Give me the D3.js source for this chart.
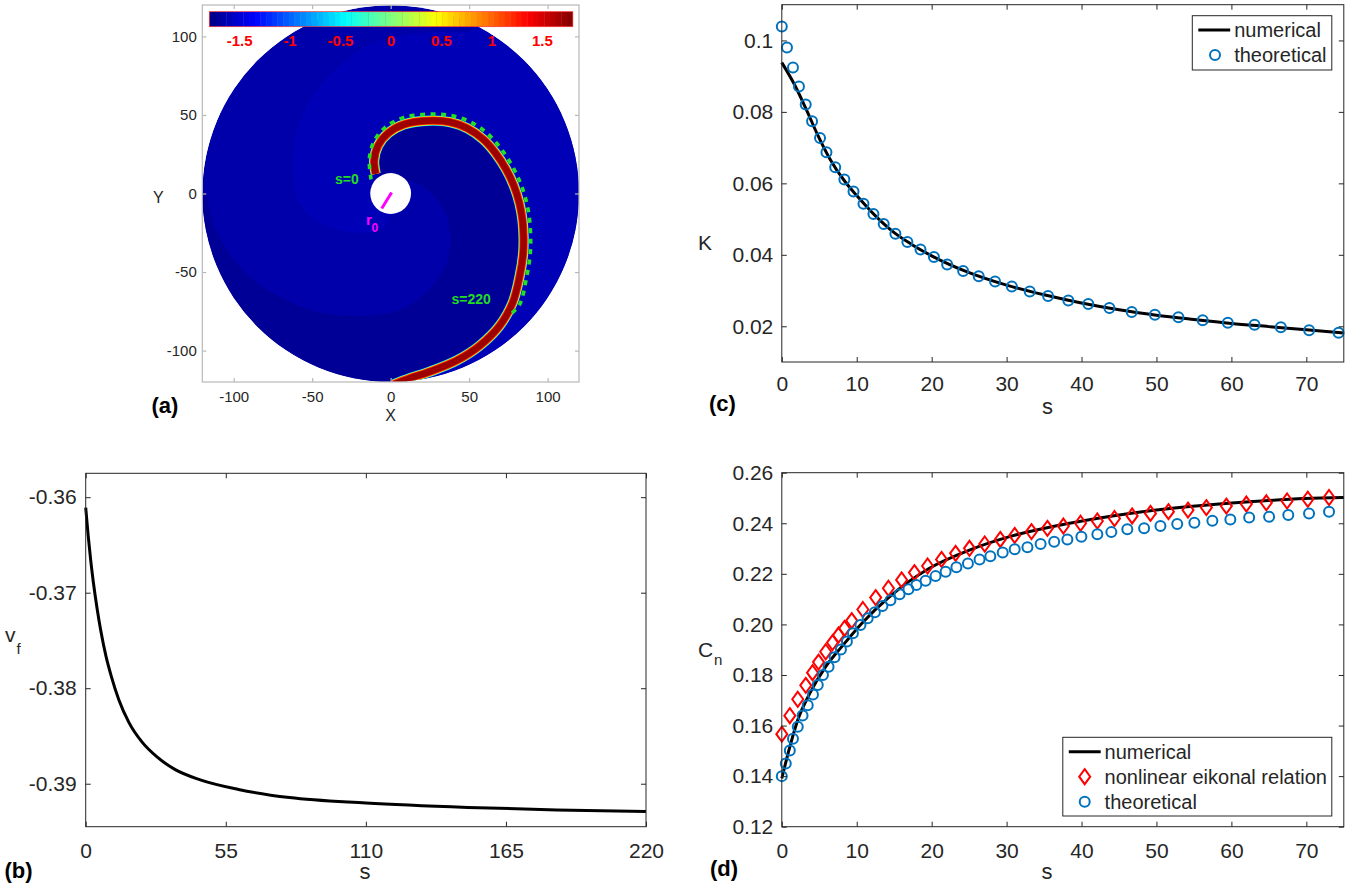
<!DOCTYPE html>
<html>
<head>
<meta charset="utf-8">
<script src="https://cdn.jsdelivr.net/npm/d3@7"></script>
<style>
  body { margin: 0; background: #fff; }
  svg { display: block; }
</style>
</head>
<body>
<svg id="fig" width="1355" height="886"></svg>
<script>
/* ---------- panel (a): spiral field ---------- */
const colorRange = [-1.8, 1.8];
const colorTicks = [-1.5, -1, -0.5, 0, 0.5, 1, 1.5];
const colorTickLabels = ["-1.5", "-1", "-0.5", "0", "0.5", "1", "1.5"];
const ticksA = [-100, -50, 0, 50, 100];
const tickLabelsA = ["-100", "-50", "0", "50", "100"];
const domainA = [-120, 120];
const diskR = 120;
const holeR = 13;
// field level of base arm, bright arm, dark (refractory) arm
const fieldLevels = [-1.65, -1.61, -1.72];
// centre line of the excited band, tip -> bottom exit
const bandX = [-9.5, -10.5, -8, -1.5, 8.5, 23, 37.5, 49, 59, 67, 73.5, 78.5, 82, 84, 84.7, 84.4, 82.3, 77.8, 69.4, 56.7, 41.9, 25, 12.3, 2];
const bandY = [12.5, 21, 30.5, 38.5, 44, 46.3, 45.5, 41.5, 34.5, 25.5, 15.5, 5, -6, -17, -28, -38.5, -52, -69.3, -84.2, -96.9, -106.4, -113.4, -117.6, -121.5];
const bandLevels = [-0.9, -0.2, 0.5, 1.2, 1.7];
// wave front from s=0 to s=220
const frontX = [-12.5, -13.6, -11, -3.6, 8, 22.9, 37.6, 51, 62, 70.5, 77.4, 82.7, 86.4, 88.5, 89.2, 88.9, 86.7, 82, 75];
const frontY = [9, 21.8, 32.4, 42, 48.3, 50.4, 49.8, 45.5, 37.9, 28.3, 17.7, 6.7, -4.9, -16.4, -27.9, -38.9, -52.9, -71, -78];
// edge of the bright arm (top -> below the hole)
const brightX = [52, 30, 4, -15, -32, -49, -60, -62, -60, -52, -38, -20, -5, 0];
const brightY = [104, 103, 100, 94, 82, 63, 40, 19, -2, -14, -22, -25, -22, -10];
// edge of the dark arm (left rim -> right of the hole)
const darkX = [-119, -112, -100, -85, -68, -48, -26, -8, 6, 18, 27, 34, 37, 38, 35.5, 27, 20, 12];
const darkY = [1, -22, -42, -57, -67, -75, -78, -77, -74, -67, -58, -48, -40, -28, -14, -1, 5, 8];
const r0X = [0.6, -5.7];
const r0Y = [0.6, -9.5];

/* ---------- panel (b): front velocity ---------- */
const vfS = [0, 1, 2, 3, 4.5, 6, 8, 10, 13, 17, 22, 28, 35, 45, 60, 80, 110, 150, 185, 220];
const vfV = [-0.3611, -0.3641, -0.3667, -0.3689, -0.3717, -0.3741, -0.3767, -0.3787, -0.3812, -0.3836, -0.3856, -0.3872, -0.3885, -0.3896, -0.3906, -0.39145, -0.39202, -0.39248, -0.39274, -0.3929];
const ticksBx = [0, 55, 110, 165, 220];
const ticksBy = [-0.39, -0.38, -0.37, -0.36];
const tickLabelsBy = ["-0.39", "-0.38", "-0.37", "-0.36"];

/* ---------- panel (c): curvature ---------- */
const kNumS = [0, 1.6, 3.2, 4.8, 6.4, 8.5, 10, 12.5, 15, 17.5, 20, 25, 30, 35, 40, 45, 50, 55, 60, 65, 70, 75];
const kNumV = [0.0938, 0.088, 0.081, 0.0735, 0.0669, 0.0603, 0.0566, 0.0509, 0.0462, 0.0427, 0.0397, 0.035, 0.0315, 0.0288, 0.0265, 0.0246, 0.0231, 0.0219, 0.0208, 0.0199, 0.019, 0.0181];
const kThS = [0, 0.69, 1.49, 2.29, 3.19, 4.04, 5.1, 5.96, 7.13, 8.35, 9.57, 10.9, 12.23, 13.6, 15.16, 16.76, 18.51, 20.3, 22.07, 24.2, 26.28, 28.46, 30.7, 33.09, 35.53, 38.24, 40.9, 43.72, 46.7, 49.79, 52.93, 56.17, 59.52, 63.09, 66.6, 70.37, 74.3];
const kThV = [0.1039, 0.098, 0.0924, 0.0871, 0.0821, 0.0774, 0.0727, 0.0687, 0.0645, 0.0611, 0.0577, 0.0543, 0.0514, 0.0486, 0.0459, 0.0436, 0.0415, 0.0394, 0.0373, 0.0355, 0.034, 0.0325, 0.0311, 0.0297, 0.0285, 0.0272, 0.0262, 0.0251, 0.024, 0.0232, 0.0225, 0.0217, 0.021, 0.0204, 0.0197, 0.0189, 0.0182];
const ticksS = [0, 10, 20, 30, 40, 50, 60, 70];
const ticksCy = [0.02, 0.04, 0.06, 0.08, 0.1];
const tickLabelsCy = ["0.02", "0.04", "0.06", "0.08", "0.1"];

/* ---------- panel (d): normal speed ---------- */
const cnNumS = [0, 1.07, 2.13, 3.73, 5.86, 8, 10.66, 14.4, 19.7, 25.05, 30.4, 38.4, 46.4, 54.4, 62.4, 69.8, 75];
const cnNumV = [0.1391, 0.1516, 0.1622, 0.1727, 0.1833, 0.1912, 0.2004, 0.211, 0.2222, 0.2294, 0.2347, 0.24, 0.2439, 0.2466, 0.2485, 0.2498, 0.2502];
const eikS = [0, 1.07, 2.13, 3.2, 4.1, 4.9, 5.86, 6.77, 7.57, 8.37, 9.33, 10.82, 12.53, 14.23, 15.99, 17.7, 19.46, 21.32, 23.19, 25.05, 27.08, 29.16, 31.08, 33.32, 35.45, 37.58, 39.87, 42.11, 44.4, 46.75, 49.2, 51.6, 54.21, 56.66, 59.33, 62, 64.66, 67.43, 70.2, 73.03];
const eikV = [0.1566, 0.1639, 0.1704, 0.1759, 0.1809, 0.1851, 0.1892, 0.1928, 0.1958, 0.1984, 0.2015, 0.2059, 0.2106, 0.2143, 0.2176, 0.2205, 0.2231, 0.2257, 0.2281, 0.2301, 0.2318, 0.2336, 0.2352, 0.2367, 0.238, 0.2389, 0.24, 0.2409, 0.2419, 0.2429, 0.2439, 0.2446, 0.2452, 0.2462, 0.2468, 0.2476, 0.2481, 0.2488, 0.2495, 0.2502];
const cnThS = [0, 0.53, 1.07, 1.49, 2.13, 2.77, 3.46, 4.16, 4.8, 5.49, 6.24, 7.04, 7.89, 8.69, 9.49, 10.5, 11.46, 12.42, 13.43, 14.5, 15.72, 16.9, 17.96, 19.19, 20.52, 21.86, 23.3, 24.84, 26.39, 27.83, 29.48, 31.08, 32.78, 34.54, 36.35, 38.11, 39.98, 42.11, 43.98, 46.11, 48.35, 50.53, 52.77, 55.06, 57.46, 59.86, 62.37, 65.03, 67.59, 70.36, 73.03];
const cnThV = [0.14, 0.145, 0.1501, 0.1548, 0.1595, 0.164, 0.168, 0.1723, 0.176, 0.18, 0.1833, 0.187, 0.1901, 0.1932, 0.1965, 0.1998, 0.2024, 0.2048, 0.2073, 0.2096, 0.2119, 0.2139, 0.2156, 0.2173, 0.2191, 0.2208, 0.2226, 0.2241, 0.2257, 0.227, 0.2284, 0.2297, 0.2305, 0.2318, 0.2327, 0.2336, 0.2347, 0.2357, 0.2365, 0.2376, 0.238, 0.2389, 0.2397, 0.2402, 0.241, 0.2415, 0.2423, 0.2426, 0.2433, 0.2439, 0.2446];
const ticksDy = [0.12, 0.14, 0.16, 0.18, 0.2, 0.22, 0.24, 0.26];
const tickLabelsDy = ["0.12", "0.14", "0.16", "0.18", "0.20", "0.22", "0.24", "0.26"];

const FONT = "'Liberation Sans', Arial, Helvetica, sans-serif";
const TXT = "#262626";
const BLUE = "#0072BD";
const RED = "#FF0000";

const svg = d3.select("#fig");

// MATLAB style jet colormap
const jetStops = [0, 0.125, 0.375, 0.625, 0.875, 1];
const jetColors = ["#000080", "#0000ff", "#00ffff", "#ffff00", "#ff0000", "#800000"];
const jet = d3.scaleLinear()
    .domain(jetStops.map(f => colorRange[0] + f * (colorRange[1] - colorRange[0])))
    .range(jetColors)
    .interpolate(d3.interpolateRgb)
    .clamp(true);

// box with inward ticks on all four sides
function frame(g, x, y, o) {
    let [x0, x1] = x.range(), [yb, yt] = y.range();
    g.append("rect")
        .attr("x", x0).attr("y", yt)
        .attr("width", x1 - x0).attr("height", yb - yt)
        .attr("fill", "none")
        .attr("stroke", o.line)
        .attr("stroke-width", o.lw || 1);

    let mk = (fn, sc, vals, labels, pad, tr) => {
        let a = fn(sc).tickValues(vals)
            .tickSizeInner(-o.tick).tickSizeOuter(0)
            .tickPadding(pad)
            .tickFormat(labels ? (d, i) => labels[i] : "");
        let s = g.append("g").attr("transform", tr).call(a)
            .attr("font-family", FONT)
            .attr("font-size", o.font)
            .attr("color", o.line);
        s.select(".domain").remove();
        s.selectAll("line").attr("stroke-width", o.lw || 1);
        s.selectAll("text").attr("fill", TXT);
    };
    mk(d3.axisBottom, x, o.xt, o.xl, o.padX, `translate(0,${yb})`);
    mk(d3.axisTop, x, o.xt, null, 0, `translate(0,${yt})`);
    mk(d3.axisLeft, y, o.yt, o.yl, o.padY, `translate(${x0},0)`);
    mk(d3.axisRight, y, o.yt, null, 0, `translate(${x1},0)`);
}

function label(g, txt, x, y, size, opts = {}) {
    return g.append("text")
        .attr("x", x).attr("y", y)
        .attr("font-family", FONT)
        .attr("font-size", size)
        .attr("font-weight", opts.bold ? "bold" : null)
        .attr("text-anchor", opts.anchor || "start")
        .attr("fill", opts.color || TXT)
        .text(txt);
}

/* ======== (a) ======== */
{
    let g = svg.append("g");
    let x = d3.scaleLinear().domain(domainA).range([202.3, 579]);
    let y = d3.scaleLinear().domain(domainA).range([382, 5]);
    let pt = (px, py) => px.map((v, i) => [v, py[i]]);
    let bandPts = pt(bandX, bandY);

    let arc = (a0, a1) => {
        let n = Math.ceil(Math.abs(a1 - a0) / 3);
        return d3.range(n + 1).map(i => {
            let a = (a0 + (a1 - a0) * i / n) * Math.PI / 180;
            return [(diskR + 2) * Math.cos(a), (diskR + 2) * Math.sin(a)];
        });
    };
    let last = bandPts[bandPts.length - 1];
    let exitAng = Math.atan2(last[1], last[0]) * 180 / Math.PI;
    let topAng = Math.atan2(brightY[0], brightX[0]) * 180 / Math.PI;

    let brightPoly = bandPts.concat(arc(exitAng, topAng), pt(brightX, brightY));
    let darkPoly = bandPts.concat(arc(exitAng, -180), pt(darkX, darkY));

    svg.append("defs").append("clipPath").attr("id", "disk")
        .append("circle")
        .attr("cx", x(0)).attr("cy", y(0))
        .attr("r", x(diskR) - x(0));

    let field = g.append("g").attr("clip-path", "url(#disk)");
    field.append("circle")
        .attr("cx", x(0)).attr("cy", y(0))
        .attr("r", x(diskR) - x(0))
        .attr("fill", jet(fieldLevels[0]));

    let poly = d3.line().x(d => x(d[0])).y(d => y(d[1])).curve(d3.curveCatmullRomClosed);
    field.append("path").attr("d", poly(brightPoly)).attr("fill", jet(fieldLevels[1]));
    field.append("path").attr("d", poly(darkPoly)).attr("fill", jet(fieldLevels[2]));

    // excited band, layered from the edge colour to the core colour
    let bandLine = d3.line().x(d => x(d[0])).y(d => y(d[1])).curve(d3.curveCatmullRom.alpha(0.5));
    let bandW = [10.5, 9.8, 9, 8.2, 6.5];
    bandLevels.forEach((lv, i) => {
        field.append("path")
            .attr("d", bandLine(bandPts))
            .attr("fill", "none")
            .attr("stroke", jet(lv))
            .attr("stroke-width", bandW[i]);
    });

    // hole
    g.append("circle")
        .attr("cx", x(0)).attr("cy", y(0))
        .attr("r", x(holeR) - x(0))
        .attr("fill", "#fff");

    // wave front
    g.append("path")
        .attr("d", bandLine(pt(frontX, frontY)))
        .attr("fill", "none")
        .attr("stroke", "#22e022")
        .attr("stroke-width", 3.6)
        .attr("stroke-dasharray", "5 5.5");

    // r0
    g.append("line")
        .attr("x1", x(r0X[0])).attr("y1", y(r0Y[0]))
        .attr("x2", x(r0X[1])).attr("y2", y(r0Y[1]))
        .attr("stroke", "#ff00ff").attr("stroke-width", 3);
    label(g, "r", 366, 225, 15, {bold: true, color: "#ff00ff"});
    label(g, "0", 371.5, 232, 12, {bold: true, color: "#ff00ff"});

    label(g, "s=0", 335, 183.5, 14, {bold: true, color: "#22dd22"});
    label(g, "s=220", 451.5, 303.5, 14, {bold: true, color: "#22dd22"});

    // colorbar
    let cb = d3.scaleLinear().domain(colorRange).range([209.3, 572.7]);
    let nCol = 64;
    let step = (colorRange[1] - colorRange[0]) / nCol;
    g.append("g").selectAll("rect")
        .data(d3.range(nCol))
        .join("rect")
        .attr("x", i => cb(colorRange[0] + i * step))
        .attr("y", 11.7)
        .attr("width", cb(colorRange[0] + step) - cb(colorRange[0]) + 0.4)
        .attr("height", 15)
        .attr("fill", i => jet(colorRange[0] + (i + 0.5) * step));
    g.append("rect")
        .attr("x", cb(colorRange[0])).attr("y", 11.7)
        .attr("width", cb(colorRange[1]) - cb(colorRange[0])).attr("height", 15)
        .attr("fill", "none").attr("stroke", "#ff3030").attr("stroke-width", 0.7);
    g.append("g").selectAll("text")
        .data(colorTicks)
        .join("text")
        .attr("x", d => cb(d))
        .attr("y", 46.3)
        .attr("text-anchor", "middle")
        .attr("font-family", FONT)
        .attr("font-size", 15)
        .attr("font-weight", "bold")
        .attr("fill", "#ff0000")
        .text((d, i) => colorTickLabels[i]);

    frame(g, x, y, {
        xt: ticksA, xl: tickLabelsA, yt: ticksA, yl: tickLabelsA,
        tick: 4, font: 15, padX: 9, padY: 5.5, line: "#b8b8b8", lw: 1.2
    });

    label(g, "X", 390.7, 421, 16, {anchor: "middle"});
    label(g, "Y", 158.3, 202.5, 16, {anchor: "middle"});
    label(g, "(a)", 151.5, 413, 22, {bold: true, color: "#000"});
}

/* ======== (b) ======== */
{
    let g = svg.append("g");
    let x = d3.scaleLinear().domain([0, 220]).range([85.7, 646]);
    let y = d3.scaleLinear().domain([-0.3945, -0.3575]).range([826.7, 473.3]);

    g.append("path")
        .attr("d", d3.line().x(d => x(d[0])).y(d => y(d[1])).curve(d3.curveMonotoneX)(vfS.map((s, i) => [s, vfV[i]])))
        .attr("fill", "none")
        .attr("stroke", "#000")
        .attr("stroke-width", 3);

    frame(g, x, y, {
        xt: ticksBx, xl: ticksBx.map(String), yt: ticksBy, yl: tickLabelsBy,
        tick: 5, font: 21, padX: 16, padY: 9, line: "#262626"
    });

    label(g, "s", 365, 879, 22, {anchor: "middle"});
    label(g, "v", 5, 642, 21);
    label(g, "f", 16.5, 654, 15);
    label(g, "(b)", 4.5, 878, 22, {bold: true, color: "#000"});
}

/* ======== (c) ======== */
{
    let g = svg.append("g");
    let x = d3.scaleLinear().domain([0, 75]).range([781.8, 1343.8]);
    let y = d3.scaleLinear().domain([0.01, 0.11]).range([362, 4.7]);

    g.append("path")
        .attr("d", d3.line().x(d => x(d[0])).y(d => y(d[1])).curve(d3.curveMonotoneX)(kNumS.map((s, i) => [s, kNumV[i]])))
        .attr("fill", "none")
        .attr("stroke", "#000")
        .attr("stroke-width", 3);

    g.append("g").selectAll("circle")
        .data(kThS.map((s, i) => [s, kThV[i]]))
        .join("circle")
        .attr("cx", d => x(d[0])).attr("cy", d => y(d[1]))
        .attr("r", 5)
        .attr("fill", "none")
        .attr("stroke", BLUE)
        .attr("stroke-width", 2);

    frame(g, x, y, {
        xt: ticksS, xl: ticksS.map(String), yt: ticksCy, yl: tickLabelsCy,
        tick: 5, font: 21, padX: 14.5, padY: 8.5, line: "#262626"
    });

    // legend
    let lg = g.append("g");
    lg.append("rect").attr("x", 1192.3).attr("y", 15.7).attr("width", 139.5).attr("height", 54.3)
        .attr("fill", "#fff").attr("stroke", "#262626").attr("stroke-width", 1);
    lg.append("line").attr("x1", 1198.3).attr("x2", 1230.2).attr("y1", 30).attr("y2", 30)
        .attr("stroke", "#000").attr("stroke-width", 3);
    lg.append("circle").attr("cx", 1215).attr("cy", 55).attr("r", 5)
        .attr("fill", "none").attr("stroke", BLUE).attr("stroke-width", 2);
    label(lg, "numerical", 1234.2, 37, 20);
    label(lg, "theoretical", 1234.2, 62, 20);

    label(g, "s", 1047.6, 414, 22, {anchor: "middle"});
    label(g, "K", 698, 250, 21);
    label(g, "(c)", 709, 411, 22, {bold: true, color: "#000"});
}

/* ======== (d) ======== */
{
    let g = svg.append("g");
    let x = d3.scaleLinear().domain([0, 75]).range([781.8, 1343.8]);
    let y = d3.scaleLinear().domain([0.12, 0.26]).range([826.7, 472.7]);

    g.append("path")
        .attr("d", d3.line().x(d => x(d[0])).y(d => y(d[1])).curve(d3.curveMonotoneX)(cnNumS.map((s, i) => [s, cnNumV[i]])))
        .attr("fill", "none")
        .attr("stroke", "#000")
        .attr("stroke-width", 3);

    let diamond = "M0,-7.5L5.5,0L0,7.5L-5.5,0Z";
    g.append("g").selectAll("path")
        .data(eikS.map((s, i) => [s, eikV[i]]))
        .join("path")
        .attr("d", diamond)
        .attr("transform", d => `translate(${x(d[0])},${y(d[1])})`)
        .attr("fill", "none")
        .attr("stroke", RED)
        .attr("stroke-width", 2);

    g.append("g").selectAll("circle")
        .data(cnThS.map((s, i) => [s, cnThV[i]]))
        .join("circle")
        .attr("cx", d => x(d[0])).attr("cy", d => y(d[1]))
        .attr("r", 5)
        .attr("fill", "none")
        .attr("stroke", BLUE)
        .attr("stroke-width", 2);

    frame(g, x, y, {
        xt: ticksS, xl: ticksS.map(String), yt: ticksDy, yl: tickLabelsDy,
        tick: 5, font: 21, padX: 16, padY: 8.5, line: "#262626"
    });

    // legend
    let lg = g.append("g");
    lg.append("rect").attr("x", 1062.8).attr("y", 737.3).attr("width", 269).attr("height", 78.7)
        .attr("fill", "#fff").attr("stroke", "#262626").attr("stroke-width", 1);
    lg.append("line").attr("x1", 1068.8).attr("x2", 1100.7).attr("y1", 751.7).attr("y2", 751.7)
        .attr("stroke", "#000").attr("stroke-width", 3);
    lg.append("path").attr("d", diamond).attr("transform", "translate(1084.7,776.7)")
        .attr("fill", "none").attr("stroke", RED).attr("stroke-width", 2);
    lg.append("circle").attr("cx", 1084.7).attr("cy", 801.7).attr("r", 5)
        .attr("fill", "none").attr("stroke", BLUE).attr("stroke-width", 2);
    label(lg, "numerical", 1104.6, 758.7, 20);
    label(lg, "nonlinear eikonal relation", 1104.6, 783.7, 20);
    label(lg, "theoretical", 1104.6, 808.7, 20);

    label(g, "s", 1047, 879, 22, {anchor: "middle"});
    label(g, "C", 698, 657, 21);
    label(g, "n", 714, 665, 15);
    label(g, "(d)", 710, 876, 22, {bold: true, color: "#000"});
}
</script>
</body>
</html>
